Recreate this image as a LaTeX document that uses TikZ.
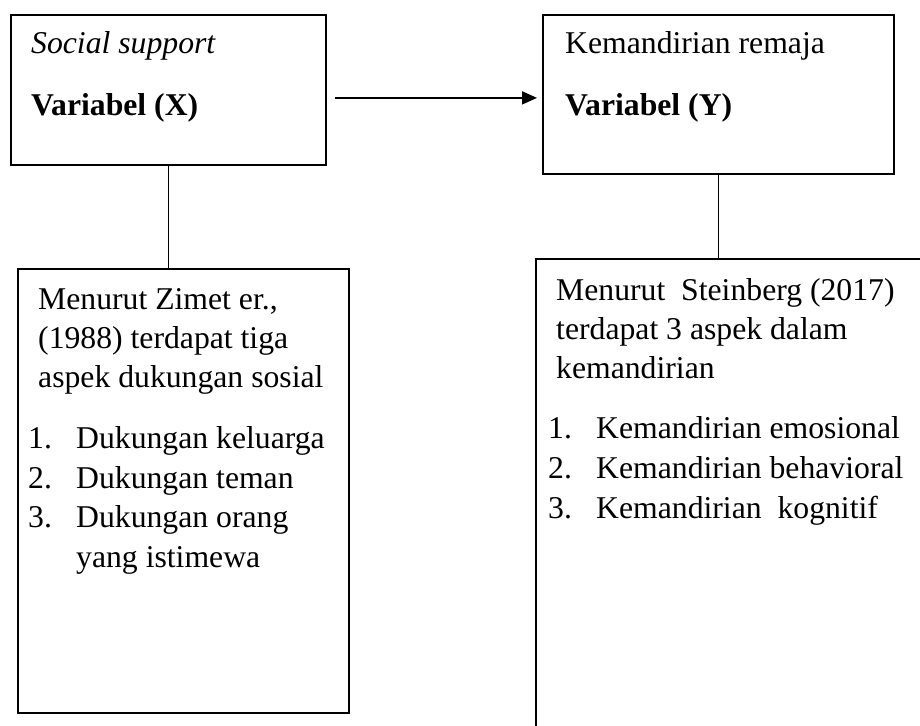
\documentclass[tikz,border=0pt]{standalone}
\usepackage{fontspec}
\setmainfont{Liberation Serif}
\usetikzlibrary{calc,arrows.meta}
\begin{document}
\begin{tikzpicture}[x=1pt,y=-1pt,
  box/.style={draw,line width=1.8pt,rectangle,anchor=north west,inner sep=0pt},
  txt/.style={anchor=base west,inner sep=0pt,font=\fontsize{31.7}{39}\selectfont},
  link/.style={line width=1.8pt}]
\useasboundingbox (0,0) rectangle (920,725);
\clip (0,0) rectangle (920,725);
% boxes
\node[box,minimum width=315pt,minimum height=150pt] (bx) at (10,14) {};
\node[box,minimum width=351pt,minimum height=159pt] (by) at (542,14) {};
\node[box,minimum width=331pt,minimum height=444pt] (bl) at (17,268) {};
\node[box,minimum width=420pt,minimum height=520pt] (br) at (535,258) {};
% texts in top boxes
\node[txt] (t1) at (31,53) {\itshape Social support};
\node[txt] (t2) at (31,115) {\bfseries Variabel (X)};
\node[txt] (t3) at (565,53) {Kemandirian remaja};
\node[txt] (t4) at (565,115) {\bfseries Variabel (Y)};
% bottom-left
\node[txt] (l1) at (38,309) {Menurut Zimet er.,};
\node[txt] (l2) at (38,348) {(1988) terdapat tiga};
\node[txt] (l3) at (38,387) {aspek dukungan sosial};
\node[txt] (n1) at (28,448) {1.};
\node[txt] (i1) at (76,448) {Dukungan keluarga};
\node[txt] (n2) at (28,488) {2.};
\node[txt] (i2) at (76,488) {Dukungan teman};
\node[txt] (n3) at (28,527) {3.};
\node[txt] (i3) at (76,527) {Dukungan orang};
\node[txt] (i4) at (76,567) {yang istimewa};
% bottom-right
\node[txt] (r1) at (556,300) {Menurut\ \ Steinberg (2017)};
\node[txt] (r2) at (556,339) {terdapat 3 aspek dalam};
\node[txt] (r3) at (556,378) {kemandirian};
\node[txt] (m1) at (548,438) {1.};
\node[txt] (j1) at (596,438) {Kemandirian emosional};
\node[txt] (m2) at (548,478) {2.};
\node[txt] (j2) at (596,478) {Kemandirian behavioral};
\node[txt] (m3) at (548,518) {3.};
\node[txt] (j3) at (596,518) {Kemandirian\ \ kognitif};
% connectors
\draw[link] (bx.south) -- (bx.south |- bl.north);
\draw[link] (by.south) -- (by.south |- br.north);
\draw[link,-{Triangle[length=15pt,width=13pt]}] ($(bx.east)+(8,8)$) -- ($(by.west)+(-5,3.5)$);
\end{tikzpicture}
\end{document}
